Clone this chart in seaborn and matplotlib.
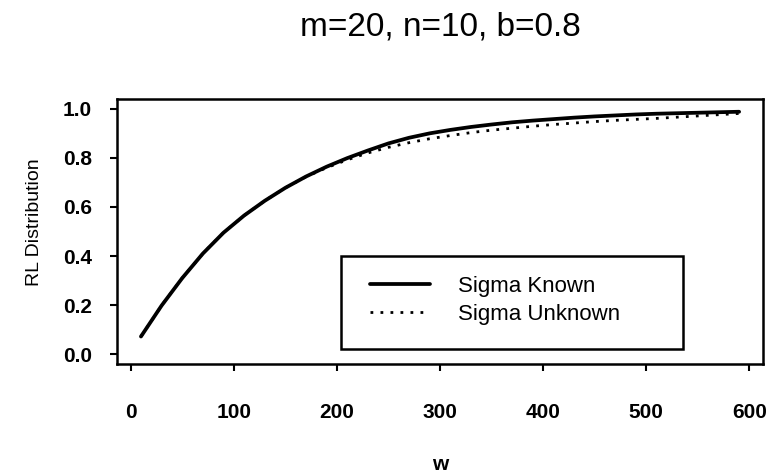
import matplotlib
matplotlib.use("Agg")
import matplotlib.pyplot as plt
import matplotlib.patches as patches
from matplotlib.ticker import FormatStrFormatter
import pandas as pd
import seaborn as sns

# values
w = [10, 30, 50, 70, 90, 110, 130, 150, 170, 190, 210, 230, 250, 270, 290,
     310, 330, 350, 370, 390, 410, 430, 450, 470, 490, 510, 530, 550, 570, 590]
sigma_known = [0.072, 0.198, 0.31, 0.41, 0.495, 0.565, 0.625, 0.678, 0.724, 0.764,
               0.799, 0.830, 0.859, 0.882, 0.900, 0.914, 0.926, 0.936, 0.945, 0.952,
               0.958, 0.964, 0.969, 0.973, 0.977, 0.980, 0.982, 0.984, 0.986, 0.988]
sigma_unknown = [0.072, 0.198, 0.31, 0.41, 0.495, 0.565, 0.625, 0.678, 0.723, 0.760,
                 0.792, 0.820, 0.843, 0.862, 0.878, 0.891, 0.903, 0.913, 0.921, 0.929,
                 0.936, 0.942, 0.948, 0.953, 0.957, 0.961, 0.966, 0.971, 0.976, 0.981]
x_ticks = [0, 100, 200, 300, 400, 500, 600]
y_ticks = [0.0, 0.2, 0.4, 0.6, 0.8, 1.0]
title = "m=20, n=10, b=0.8"

df = pd.DataFrame({"w": w, "Sigma Known": sigma_known, "Sigma Unknown": sigma_unknown})

sns.set_theme(style="ticks")
plt.rcParams["font.family"] = ["Liberation Sans", "DejaVu Sans"]
plt.rcParams["axes.edgecolor"] = "black"
plt.rcParams["axes.linewidth"] = 1.8
plt.rcParams["text.color"] = "black"
plt.rcParams["axes.labelcolor"] = "black"

fig = plt.figure(figsize=(7.72, 4.75), dpi=100)
ax = fig.add_axes([0.1516, 0.2337, 0.8368, 0.5579])

sns.lineplot(data=df, x="w", y="Sigma Known", color="black", linewidth=2.7,
             label="Sigma Known", ax=ax)
sns.lineplot(data=df, x="w", y="Sigma Unknown", color="black", linewidth=2,
             linestyle=(0, (1, 2.6)), label="Sigma Unknown", ax=ax)

ax.set_xlim(-13.2, 613.2)
ax.set_ylim(-0.04, 1.04)
ax.set_xticks(x_ticks)
ax.set_yticks(y_ticks)
ax.yaxis.set_major_formatter(FormatStrFormatter("%.1f"))
ax.tick_params(direction="out", length=5, width=1.5, labelsize=15, colors="black")
ax.tick_params(axis="x", pad=23)
ax.tick_params(axis="y", pad=13)
for lbl in ax.get_xticklabels() + ax.get_yticklabels():
    lbl.set_fontweight("bold")

ax.set_xlabel("w", fontsize=15, fontweight="bold")
ax.set_ylabel("RL Distribution", fontsize=14)
ax.xaxis.set_label_coords(0.5, -0.381)
ax.xaxis.label.set_verticalalignment("center")
ax.yaxis.set_label_coords(-0.1146, 0.536)

ax.text(0.5, 1.27, title, transform=ax.transAxes, ha="center", va="center",
        fontsize=24, color="black")

# legend box
ax.add_patch(patches.Rectangle((0.347, 0.057), 0.529, 0.351, transform=ax.transAxes,
                               fill=False, edgecolor="black", linewidth=1.8, zorder=3))
handles, labels = ax.get_legend_handles_labels()
ax.legend(handles, labels, loc="center left", bbox_to_anchor=(0.392, 0.240),
          frameon=False, fontsize=16, handlelength=2.7, handletextpad=1.26,
          labelspacing=0.3, borderpad=0, borderaxespad=0, labelcolor="black")

fig.savefig("out.png", dpi=100)
